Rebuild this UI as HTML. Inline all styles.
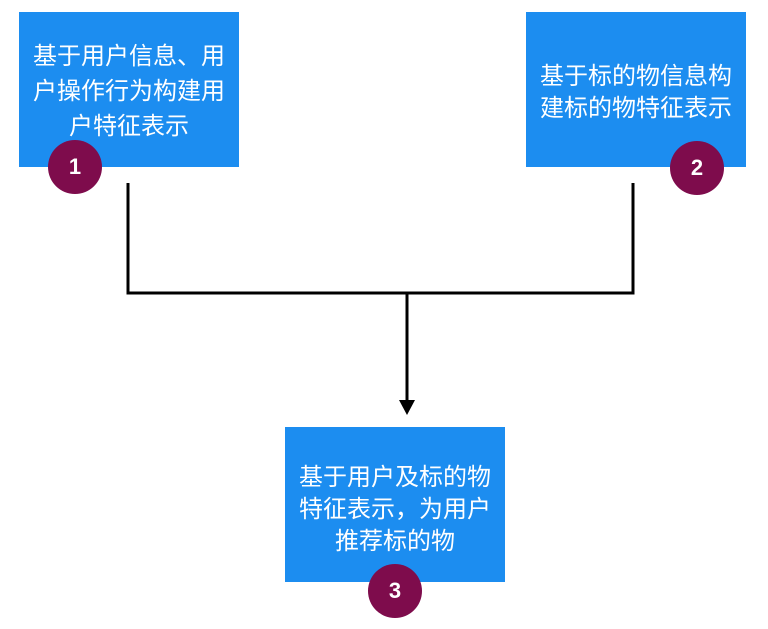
<!DOCTYPE html>
<html><head><meta charset="utf-8"><style>
body{margin:0;width:768px;height:629px;background:#fff;position:relative;overflow:hidden;font-family:"Liberation Sans","Noto Sans CJK SC",sans-serif}
.b{position:absolute;background:#1c8df0;color:#fff;font-size:24px;line-height:35px;text-align:center;display:flex;align-items:center;justify-content:center;box-sizing:border-box}
.c{position:absolute;width:54px;height:54px;border-radius:50%;background:#7e0c4c;color:#fff;font-size:22px;line-height:54px;text-align:center;font-weight:bold}
</style></head><body>
<svg width="768" height="629" style="position:absolute;left:0;top:0">
<polyline points="128,183 128,293 633,293 633,183" fill="none" stroke="#000" stroke-width="3"/>
<line x1="407" y1="293" x2="407" y2="402" stroke="#000" stroke-width="3"/>
<polygon points="399,400 415,400 407,415" fill="#000"/>
</svg>
<div class="b" style="left:19px;top:12px;width:220px;height:155px;padding-top:4px">基于用户信息、用<br>户操作行为构建用<br>户特征表示</div>
<div class="b" style="left:526px;top:12px;width:220px;height:155px;padding-top:6px;line-height:32px">基于标的物信息构<br>建标的物特征表示</div>
<div class="b" style="left:285px;top:427px;width:220px;height:155px;padding-top:10px;line-height:32px">基于用户及标的物<br>特征表示，为用户<br>推荐标的物</div>
<div class="c" style="left:48px;top:140px">1</div>
<div class="c" style="left:670px;top:141px">2</div>
<div class="c" style="left:368px;top:564px">3</div>
</body></html>
